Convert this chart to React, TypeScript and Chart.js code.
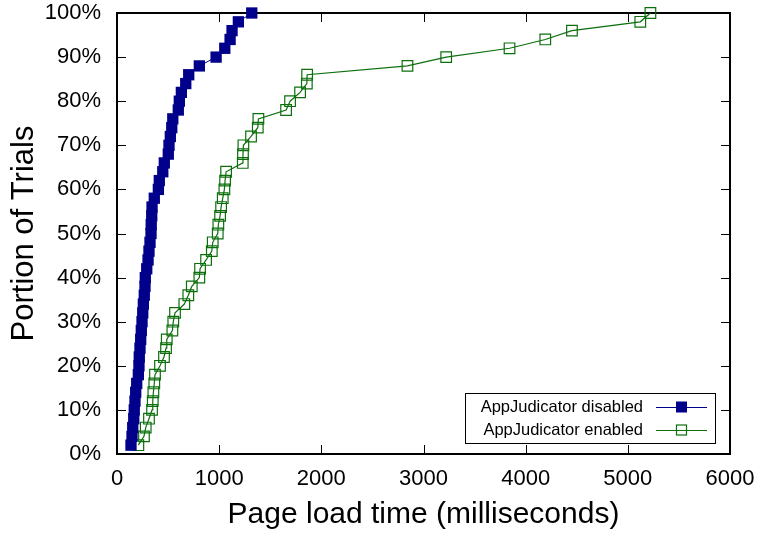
import React, { useEffect, useRef } from 'react';
import { Chart, registerables } from 'chart.js';

Chart.register(...registerables);

// Cumulative portion of trials (%)
const portions = [
  2, 4, 6, 8, 10, 12, 14, 16, 18, 20,
  22, 24, 26, 28, 30, 32, 34, 36, 38, 40,
  42, 44, 46, 48, 50, 52, 54, 56, 58, 60,
  62, 64, 66, 68, 70, 72, 74, 76, 78, 80,
  82, 84, 86, 88, 90, 92, 94, 96, 98, 100,
];

// Page load time (ms) — AppJudicator disabled
const disabledMs = [
  137, 147, 154, 164, 169, 176, 183, 193, 209, 215,
  218, 225, 232, 238, 245, 252, 258, 267, 274, 277,
  291, 304, 313, 323, 333, 335, 340, 343, 365, 405,
  414, 448, 463, 502, 509, 522, 536, 546, 600, 610,
  630, 673, 702, 806, 970, 1055, 1107, 1126, 1188, 1319,
];

// Page load time (ms) — AppJudicator enabled
const enabledMs = [
  209, 264, 281, 313, 343, 350, 356, 365, 372, 421,
  460, 480, 487, 542, 551, 568, 659, 698, 732, 806,
  813, 872, 928, 937, 986, 992, 1009, 1019, 1035, 1051,
  1058, 1068, 1231, 1233, 1237, 1312, 1378, 1384, 1655, 1694,
  1792, 1858, 1861, 2843, 3222, 3842, 4192, 4453, 5122, 5221,
];

const seriesLabels = ['AppJudicator disabled', 'AppJudicator enabled'];
const seriesColors = ['#00008b', '#0c6f0c'];
const xTitle = 'Page load time (milliseconds)';
const yTitle = 'Portion of Trials';

const FONT = "'Liberation Sans', Arial, Helvetica, sans-serif";

const framePlugin = {
  id: 'frame',
  beforeDatasetsDraw(chart: any) {
    const { ctx, chartArea: a, scales } = chart;
    ctx.save();
    ctx.strokeStyle = '#000';
    ctx.lineWidth = 1;
    ctx.beginPath();
    scales.x.ticks.forEach((t: any) => {
      const px = Math.round(scales.x.getPixelForValue(t.value)) + 0.5;
      ctx.moveTo(px, a.bottom);
      ctx.lineTo(px, a.bottom - 9);
      ctx.moveTo(px, a.top);
      ctx.lineTo(px, a.top + 9);
    });
    scales.y.ticks.forEach((t: any) => {
      const py = Math.round(scales.y.getPixelForValue(t.value)) + 0.5;
      ctx.moveTo(a.left, py);
      ctx.lineTo(a.left + 9, py);
      ctx.moveTo(a.right, py);
      ctx.lineTo(a.right - 9, py);
    });
    ctx.stroke();
    ctx.lineWidth = 2;
    ctx.strokeRect(a.left, a.top, a.right - a.left, a.bottom - a.top);
    ctx.restore();
  },
};

const legendPlugin = {
  id: 'customLegend',
  afterDraw(chart: any) {
    const { ctx } = chart;
    const bx = 465, by = 393, bw = 250, bh = 50;
    ctx.save();
    ctx.fillStyle = '#fff';
    ctx.fillRect(bx, by, bw, bh);
    ctx.strokeStyle = '#000';
    ctx.lineWidth = 1;
    ctx.strokeRect(bx + 0.5, by + 0.5, bw, bh);
    ctx.font = `16.5px ${FONT}`;
    ctx.textAlign = 'right';
    ctx.textBaseline = 'middle';
    chart.data.datasets.forEach((ds: any, i: number) => {
      const cy = by + 14 + i * 23;
      ctx.fillStyle = '#000';
      ctx.fillText(ds.label, 643, cy);
      ctx.strokeStyle = ds.borderColor;
      ctx.lineWidth = 1.2;
      ctx.beginPath();
      ctx.moveTo(656, cy + 0.5);
      ctx.lineTo(707, cy + 0.5);
      ctx.stroke();
      const s = i === 0 ? 11 : 10;
      if (i === 0) {
        ctx.fillStyle = ds.pointBackgroundColor;
        ctx.fillRect(681.5 - s / 2, cy - s / 2, s, s);
      } else {
        ctx.strokeStyle = ds.pointBorderColor;
        ctx.lineWidth = 1.2;
        ctx.strokeRect(681.5 - s / 2, cy - s / 2, s, s);
      }
    });
    ctx.restore();
  },
};

export default function App() {
  const canvasRef = useRef<HTMLCanvasElement | null>(null);

  useEffect(() => {
    const canvas = canvasRef.current;
    if (!canvas) return;
    const chart = new Chart(canvas, {
      type: 'scatter',
      data: {
        datasets: [
          {
            label: seriesLabels[0],
            data: disabledMs.map((x, i) => ({ x, y: portions[i] })),
            showLine: true,
            borderColor: seriesColors[0],
            borderWidth: 1,
            pointStyle: 'rect',
            pointRadius: 8,
            pointBackgroundColor: seriesColors[0],
            pointBorderColor: seriesColors[0],
            pointBorderWidth: 0,
            clip: false,
          },
          {
            label: seriesLabels[1],
            data: enabledMs.map((x, i) => ({ x, y: portions[i] })),
            showLine: true,
            borderColor: seriesColors[1],
            borderWidth: 1.2,
            pointStyle: 'rect',
            pointRadius: 7.5,
            pointBackgroundColor: 'rgba(0,0,0,0)',
            pointBorderColor: seriesColors[1],
            pointBorderWidth: 1.2,
            clip: false,
          },
        ] as any,
      },
      options: {
        responsive: false,
        maintainAspectRatio: false,
        animation: false,
        layout: { padding: { top: 13, right: 31, left: 0, bottom: 0 } },
        plugins: {
          legend: { display: false },
          tooltip: { enabled: false },
        },
        scales: {
          x: {
            type: 'linear',
            min: 0,
            max: 6000,
            grid: { display: false, drawTicks: false },
            border: { display: false },
            ticks: {
              stepSize: 1000,
              padding: 12,
              color: '#000',
              font: { family: FONT, size: 22 },
              maxRotation: 0,
              callback: (v: any) => String(v),
            },
            title: {
              display: true,
              text: xTitle,
              color: '#000',
              font: { family: FONT, size: 30 },
              padding: { top: 0, bottom: 0 },
            },
            afterFit: (scale: any) => {
              scale.height = 79;
              scale.paddingLeft = 0;
              scale.paddingRight = 0;
            },
          },
          y: {
            type: 'linear',
            min: 0,
            max: 100,
            grid: { display: false, drawTicks: false },
            border: { display: false },
            ticks: {
              stepSize: 10,
              padding: 16,
              color: '#000',
              font: { family: FONT, size: 22 },
              callback: (v: any) => `${v}%`,
            },
            title: {
              display: true,
              text: yTitle,
              color: '#000',
              font: { family: FONT, size: 31 },
              padding: { top: 6, bottom: 0 },
            },
            afterFit: (scale: any) => {
              scale.width = 117;
              scale.paddingTop = 0;
              scale.paddingBottom = 0;
            },
          },
        },
      } as any,
      plugins: [framePlugin, legendPlugin],
    });
    return () => chart.destroy();
  }, []);

  return (
    <div style={{ position: 'absolute', left: 0, top: 0, width: 761, height: 533, background: '#fff' }}>
      <canvas ref={canvasRef} width={761} height={533} style={{ width: 761, height: 533 }} />
    </div>
  );
}
